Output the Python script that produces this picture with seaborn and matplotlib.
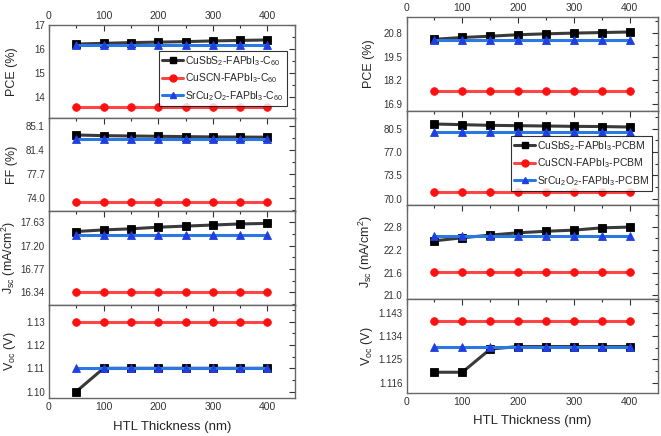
import numpy as np
import pandas as pd
import seaborn as sns
import matplotlib.pyplot as plt
from matplotlib.ticker import FixedLocator, AutoMinorLocator, MultipleLocator

sns.set_style('white')
plt.rcParams['font.family'] = ['Liberation Sans', 'DejaVu Sans']
plt.rcParams['mathtext.fontset'] = 'custom'
plt.rcParams['mathtext.rm'] = 'Liberation Sans'
plt.rcParams['mathtext.it'] = 'Liberation Sans'

thickness = [50, 100, 150, 200, 250, 300, 350, 400]

# C60 devices (left)
pce_cusbs2_c60 = [16.22, 16.25, 16.28, 16.30, 16.32, 16.35, 16.37, 16.39]
pce_cuscn_c60 = [13.61] * 8
pce_srcu2o2_c60 = [16.16] * 8
ff_cusbs2_c60 = [83.70, 83.60, 83.55, 83.50, 83.45, 83.40, 83.38, 83.36]
ff_cuscn_c60 = [73.35] * 8
ff_srcu2o2_c60 = [83.05] * 8
jsc_cusbs2_c60 = [17.46, 17.49, 17.51, 17.54, 17.56, 17.58, 17.60, 17.61]
jsc_cuscn_c60 = [16.34] * 8
jsc_srcu2o2_c60 = [17.40] * 8
voc_cusbs2_c60 = [1.10, 1.11, 1.11, 1.11, 1.11, 1.11, 1.11, 1.11]
voc_cuscn_c60 = [1.13] * 8
voc_srcu2o2_c60 = [1.11] * 8

# PCBM devices (right)
pce_cusbs2_pcbm = [20.45, 20.55, 20.62, 20.70, 20.75, 20.79, 20.82, 20.85]
pce_cuscn_pcbm = [17.63] * 8
pce_srcu2o2_pcbm = [20.43] * 8
ff_cusbs2_pcbm = [81.20, 81.10, 81.00, 80.95, 80.90, 80.85, 80.82, 80.75]
ff_cuscn_pcbm = [71.00] * 8
ff_srcu2o2_pcbm = [80.05] * 8
jsc_cusbs2_pcbm = [22.43, 22.51, 22.58, 22.64, 22.68, 22.71, 22.77, 22.79]
jsc_cuscn_pcbm = [21.62] * 8
jsc_srcu2o2_pcbm = [22.55] * 8
voc_cusbs2_pcbm = [1.120, 1.120, 1.129, 1.130, 1.130, 1.130, 1.130, 1.130]
voc_cuscn_pcbm = [1.140] * 8
voc_srcu2o2_pcbm = [1.130] * 8

names_c60 = [r'CuSbS$_2$-FAPbI$_3$-C$_{60}$', r'CuSCN-FAPbI$_3$-C$_{60}$',
             r'SrCu$_2$O$_2$-FAPbI$_3$-C$_{60}$']
names_pcbm = [r'CuSbS$_2$-FAPbI$_3$-PCBM', r'CuSCN-FAPbI$_3$-PCBM',
              r'SrCu$_2$O$_2$-FAPbI$_3$-PCBM']

line_colors = ['#3a3a3a', '#ff4545', '#2a78e4']
mark_colors = ['#000000', '#ff1010', '#1f3fe0']
markers = ['s', 'o', '^']


def make_df(names, pce, ff, jsc, voc):
    rows = []
    for i, n in enumerate(names):
        for j, t in enumerate(thickness):
            rows.append({'t': t, 'dev': n, 'PCE': pce[i][j], 'FF': ff[i][j],
                         'Jsc': jsc[i][j], 'Voc': voc[i][j]})
    return pd.DataFrame(rows)


df_c60 = make_df(names_c60,
                 [pce_cusbs2_c60, pce_cuscn_c60, pce_srcu2o2_c60],
                 [ff_cusbs2_c60, ff_cuscn_c60, ff_srcu2o2_c60],
                 [jsc_cusbs2_c60, jsc_cuscn_c60, jsc_srcu2o2_c60],
                 [voc_cusbs2_c60, voc_cuscn_c60, voc_srcu2o2_c60])
df_pcbm = make_df(names_pcbm,
                  [pce_cusbs2_pcbm, pce_cuscn_pcbm, pce_srcu2o2_pcbm],
                  [ff_cusbs2_pcbm, ff_cuscn_pcbm, ff_srcu2o2_pcbm],
                  [jsc_cusbs2_pcbm, jsc_cuscn_pcbm, jsc_srcu2o2_pcbm],
                  [voc_cusbs2_pcbm, voc_cuscn_pcbm, voc_srcu2o2_pcbm])

metrics = ['PCE', 'FF', 'Jsc', 'Voc']
labels_left = ['PCE (%)', 'FF (%)', r'J$_{sc}$ (mA/cm$^2$)', r'V$_{oc}$ (V)']
labels_right = ['PCE (%)', '', r'J$_{sc}$ (mA/cm$^2$)', r'V$_{oc}$ (V)']

ticks_left = [[14, 15, 16, 17], [74.0, 77.7, 81.4, 85.1],
              [16.34, 16.77, 17.20, 17.63], [1.10, 1.11, 1.12, 1.13]]
fmt_left = ['%g', '%.1f', '%.2f', '%.2f']
lims_left = [(13.13, 17.02), (71.9, 86.3), (16.11, 17.83), (1.0972, 1.1373)]

ticks_right = [[16.9, 18.2, 19.5, 20.8], [70.0, 73.5, 77.0, 80.5],
               [21.0, 21.6, 22.2, 22.8], [1.116, 1.125, 1.134, 1.143]]
fmt_right = ['%.1f', '%.1f', '%.1f', '%.3f']
lims_right = [(16.53, 21.67), (69.1, 83.15), (20.91, 23.37), (1.112, 1.1485)]

fig = plt.figure(figsize=(6.61, 4.36), dpi=100)
gs_l = fig.add_gridspec(4, 1, left=0.074, right=0.446, top=0.943, bottom=0.087, hspace=0)
gs_r = fig.add_gridspec(4, 1, left=0.615, right=0.995, top=0.961, bottom=0.099, hspace=0)


def draw_column(gs, df, names, ylabels, ticks, fmts, lims, legend_panel, legend_anchor):
    axes = []
    for k, m in enumerate(metrics):
        ax = fig.add_subplot(gs[k])
        sns.lineplot(data=df, x='t', y=m, hue='dev', style='dev', hue_order=names,
                     style_order=names, palette=line_colors, markers=markers,
                     dashes=False, linewidth=2.2, markersize=5.5, markeredgewidth=0.6,
                     legend=False, ax=ax)
        for ln, mc in zip(ax.lines, mark_colors):
            ln.set_markerfacecolor(mc)
            ln.set_markeredgecolor(mc)
        ax.set_xlim(0, 450)
        ax.set_ylim(*lims[k])
        ax.yaxis.set_major_locator(FixedLocator(ticks[k]))
        ax.yaxis.set_major_formatter(plt.FormatStrFormatter(fmts[k]))
        ax.yaxis.set_minor_locator(AutoMinorLocator(2))
        ax.xaxis.set_major_locator(MultipleLocator(100))
        ax.xaxis.set_minor_locator(MultipleLocator(50))
        ax.tick_params(which='both', direction='in', top=True, right=True,
                       labelsize=7, colors='#333333', width=0.8, pad=3)
        ax.tick_params(axis='x', labelsize=7.5)
        ax.tick_params(which='major', length=4)
        ax.tick_params(which='minor', length=2)
        ax.tick_params(axis='x', labelbottom=(k == 3), labeltop=(k == 0))
        ax.set_ylabel(ylabels[k], fontsize=9, labelpad=2)
        ax.set_xlabel('HTL Thickness (nm)' if k == 3 else '', fontsize=9.5, labelpad=6)
        for s in ax.spines.values():
            s.set_color('#666666')
            s.set_linewidth(1.0)
        axes.append(ax)
    ax = axes[legend_panel]
    handles = [plt.Line2D([], [], color=lc, marker=mk, markerfacecolor=mc,
                          markeredgecolor=mc, linewidth=2.2, markersize=5)
               for lc, mk, mc in zip(line_colors, markers, mark_colors)]
    leg = ax.legend(handles, names, loc='upper right', bbox_to_anchor=legend_anchor,
                    fontsize=7.5, frameon=True, fancybox=False, handlelength=2.0,
                    handletextpad=0.2, borderpad=0.3, labelspacing=0.35,
                    borderaxespad=0)
    leg.get_frame().set_edgecolor('black')
    leg.get_frame().set_linewidth(0.8)
    return axes


axl = draw_column(gs_l, df_c60, names_c60, labels_left, ticks_left, fmt_left,
                  lims_left, 0, (0.967, 0.72))
axr = draw_column(gs_r, df_pcbm, names_pcbm, labels_right, ticks_right, fmt_right,
                  lims_right, 1, (0.979, 0.734))

fig.align_ylabels(axl)
fig.align_ylabels(axr)
fig.savefig('out.png', dpi=100)
